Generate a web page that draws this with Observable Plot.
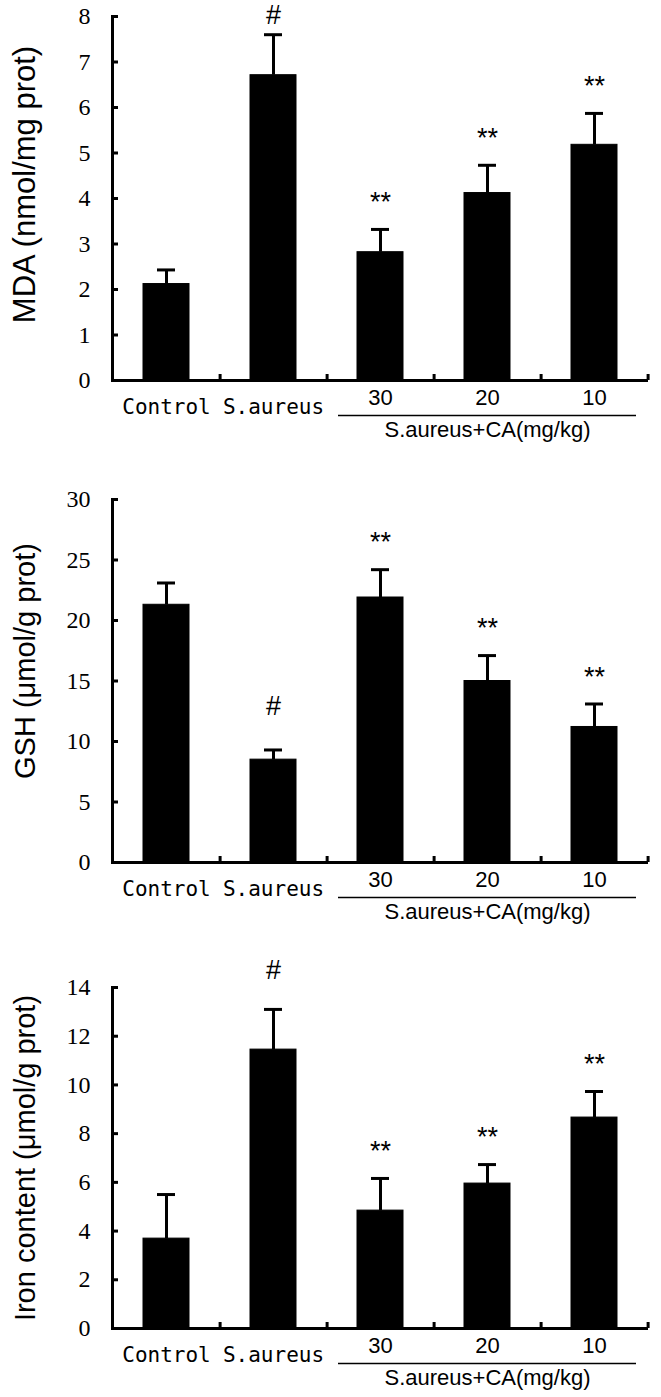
<!DOCTYPE html>
<html><head><meta charset="utf-8">
<script src="https://cdn.jsdelivr.net/npm/d3@7"></script>
<script src="https://cdn.jsdelivr.net/npm/@observablehq/plot@0.6"></script>
<style>
html,body{margin:0;padding:0;background:#fff;}
#chart svg{display:block;}
</style></head><body><div id="chart"></div>
<script>
// ---- data ----
const categories = ["Control", "S.aureus", "30", "20", "10"];
const groupLabels = ["Control", "S.aureus"];
const doseLabels = ["30", "20", "10"];
const bracketLabel = "S.aureus+CA(mg/kg)";
const signif = ["", "#", "**", "**", "**"];

const mdaMean = [2.12, 6.71, 2.82, 4.12, 5.18];
const mdaErr  = [0.31, 0.89, 0.50, 0.61, 0.69];
const mdaTicks = [0, 1, 2, 3, 4, 5, 6, 7, 8];
const mdaTitle = "MDA (nmol/mg prot)";

const gshMean = [21.3, 8.5, 21.9, 15.0, 11.2];
const gshErr  = [1.8, 0.8, 2.3, 2.1, 1.9];
const gshTicks = [0, 5, 10, 15, 20, 25, 30];
const gshTitle = "GSH (\u03bcmol/g prot)";

const ironMean = [3.69, 11.45, 4.84, 5.95, 8.66];
const ironErr  = [1.81, 1.65, 1.32, 0.78, 1.07];
const ironTicks = [0, 2, 4, 6, 8, 10, 12, 14];
const ironTitle = "Iron content (\u03bcmol/g prot)";

// ---- layout ----
const W = 661, ML = 112, MR = 13;
const step = (W - ML - MR) / categories.length;
const sans = "'Liberation Sans', Arial, sans-serif";
const mono = "'DejaVu Sans Mono', 'Liberation Mono', monospace";
const serif = "'Liberation Serif', 'Times New Roman', serif";

function panel({mean, err, ticks, title, height, marginTop, marginBottom, titleDy, titleSize, hashDy, starDy}) {
  const rows = categories.map((c, i) => ({cat: c, mean: mean[i], err: err[i], top: mean[i] + err[i], sig: signif[i]}));
  const ymax = ticks[ticks.length - 1];
  const plotH = height - marginTop - marginBottom;
  const tickLen = 6 * ymax / plotH;
  return Plot.plot({
    width: W, height, marginLeft: ML, marginRight: MR, marginTop, marginBottom,
    style: {fontFamily: serif, fontSize: "24px", color: "#000", background: "#fff", overflow: "visible"},
    x: {domain: categories, paddingInner: 0.571, paddingOuter: 0.2855, axis: null},
    y: {domain: [0, ymax], axis: null},
    marks: [
      Plot.barY(rows, {x: "cat", y: "mean", fill: "#000", stroke: "#000", strokeWidth: 1}),
      Plot.ruleX(rows, {x: "cat", y1: "mean", y2: "top", stroke: "#000", strokeWidth: 3}),
      Plot.tickY(rows, {x: "cat", y: "top", stroke: "#000", strokeWidth: 3, insetLeft: 14, insetRight: 14}),
      Plot.text(rows.filter(d => d.sig === "**"), {x: "cat", y: "top", text: "sig", dy: starDy, fontFamily: sans, fontSize: 27, fill: "#000"}),
      Plot.text(rows.filter(d => d.sig === "#"), {x: "cat", y: "top", text: "sig", dy: hashDy, fontFamily: sans, fontSize: 27, fill: "#000"}),
      Plot.axisY(ticks, {anchor: "left", tickSize: -6, tickPadding: 28, strokeWidth: 3, label: null, fontSize: 24, fontFamily: serif}),
      Plot.frame({anchor: "left", stroke: "#000", strokeWidth: 3}),
      Plot.ruleY([0], {stroke: "#000", strokeWidth: 3}),
      Plot.ruleX(categories, {x: d => d, y1: 0, y2: tickLen, dx: step / 2, stroke: "#000", strokeWidth: 3}),
      Plot.text(groupLabels, {x: d => d, frameAnchor: "bottom", dy: 33, fontFamily: mono, fontSize: 21, fill: "#000"}),
      Plot.text(doseLabels, {x: d => d, frameAnchor: "bottom", dy: 24, fontFamily: sans, fontSize: 22, fill: "#000"}),
      Plot.ruleY([0], {x1: () => doseLabels[0], x2: () => doseLabels[2], dy: 35, stroke: "#000", strokeWidth: 1.5, insetLeft: -19, insetRight: -19}),
      Plot.text([bracketLabel], {x: () => doseLabels[1], frameAnchor: "bottom", dy: 56, fontFamily: sans, fontSize: 22, fill: "#000"}),
      Plot.text([title], {frameAnchor: "left", textAnchor: "middle", lineAnchor: "middle", dx: -87, dy: titleDy, rotate: -90, fontFamily: sans, fontSize: titleSize, fill: "#000"})
    ]
  });
}

const root = document.getElementById("chart");
root.append(panel({mean: mdaMean, err: mdaErr, ticks: mdaTicks, title: mdaTitle, height: 455, marginTop: 16, marginBottom: 75, titleDy: -14, titleSize: 31, hashDy: -19, starDy: -27}));
root.append(panel({mean: gshMean, err: gshErr, ticks: gshTicks, title: gshTitle, height: 480, marginTop: 44, marginBottom: 73, titleDy: -20, titleSize: 29, hashDy: -44, starDy: -27}));
root.append(panel({mean: ironMean, err: ironErr, ticks: ironTicks, title: ironTitle, height: 462, marginTop: 52, marginBottom: 69, titleDy: 0, titleSize: 29, hashDy: -39, starDy: -27}));
</script></body></html>
